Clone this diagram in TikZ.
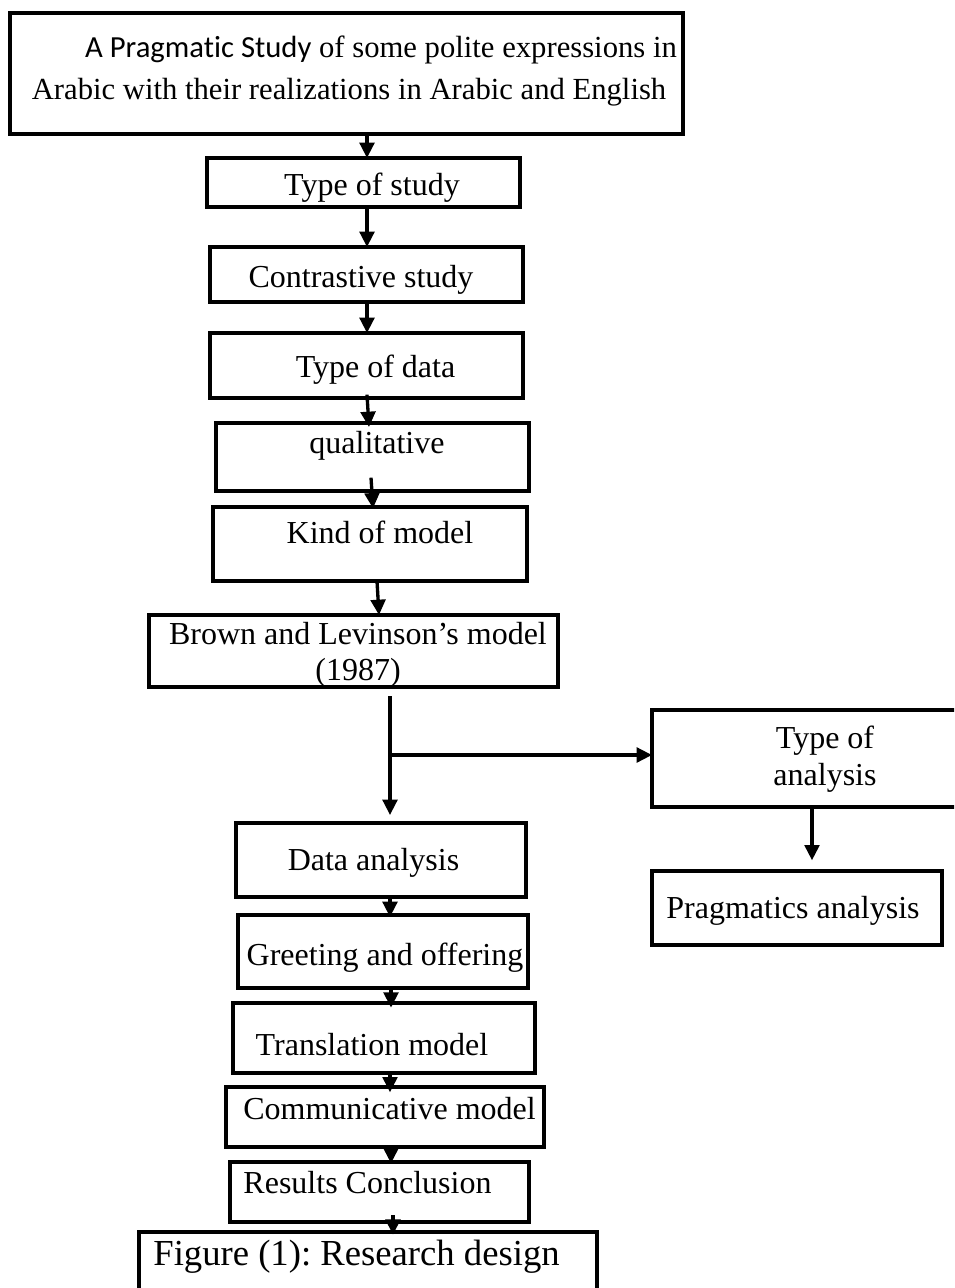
\documentclass[tikz,border=0pt]{standalone}
\usepackage{fontspec}
\setmainfont{Liberation Serif}
\newfontfamily\carlito[Ligatures=NoCommon]{Carlito}
\usetikzlibrary{arrows.meta}
\frenchspacing
\begin{document}
\begin{tikzpicture}[x=0.75pt,y=-0.75pt,
  bx/.style 2 args={draw, line width=2.8pt, minimum width=#1*0.75pt, minimum height=#2*0.75pt, inner sep=0pt, outer sep=0pt},
  txt/.style={inner sep=0pt, anchor=mid, yshift=-5.25pt, font=\fontsize{24pt}{27pt}\selectfont},
  arr/.style={line width=2.5pt, -{Triangle[width=11pt,length=11.5pt]}},
  ln/.style={line width=2.5pt}]
\useasboundingbox (0,0) rectangle (954,1288);
\clip (0,0) rectangle (954,1288);
\fill[white] (0,0) rectangle (954,1288);

% x guides
\coordinate (x367) at (367,0);
\coordinate (x369) at (369,0);
\coordinate (x371) at (371,0);
\coordinate (x373) at (373,0);
\coordinate (x377) at (377,0);
\coordinate (x379) at (379,0);
\coordinate (x390) at (390,0);
\coordinate (x391) at (391,0);
\coordinate (x393) at (393,0);
\coordinate (x812) at (812,0);

% boxes
\node[bx={673}{121}] (title) at (346.5,73.5) {};
\node[txt, font=\fontsize{23pt}{27pt}\selectfont] (t1a) at (381,47) {{\carlito A Pragmatic Study} of some polite expressions in};
\node[txt, font=\fontsize{23pt}{27pt}\selectfont] (t1b) at (349,89) {Arabic with their realizations in Arabic and English};

\node[bx={313}{49}] (tos) at (363.5,182.5) {};
\node[txt] (tost) at (372,185) {Type of study};

\node[bx={313}{55}] (cs) at (366.5,274.5) {};
\node[txt] (cst) at (361,277) {Contrastive study};

\node[bx={313}{65}] (tod) at (366.5,365.5) {};
\node[txt] (todt) at (375.5,367) {Type of data};

\node[bx={313}{68}] (qual) at (372.5,457) {};
\node[txt] (qualt) at (377,443) {qualitative};

\node[bx={314}{74}] (kom) at (370,544) {};
\node[txt] (komt) at (380,533) {Kind of model};

\node[bx={409}{72}] (bl) at (353.5,651) {};
\node[txt] (blt1) at (358,634) {Brown and Levinson’s model};
\node[txt] (blt2) at (358,670) {(1987)};

\node[bx={313}{97}] (toa) at (808.5,758.5) {};
\node[txt] (toat1) at (825,738) {Type of};
\node[txt] (toat2) at (825,775) {analysis};

\node[bx={290}{74}] (pa) at (797,908) {};
\node[txt] (pat) at (793,908) {Pragmatics analysis};

\node[bx={290}{74}] (da) at (381,860) {};
\node[txt] (dat) at (373.5,860) {Data analysis};

\node[bx={290}{73}] (go) at (383,951.5) {};
\node[txt] (got) at (385,955) {Greeting and offering};

\node[bx={302}{70}] (tm) at (384,1038) {};
\node[txt] (tmt) at (372,1045) {Translation model};

\node[bx={318}{60}] (cm) at (385,1117) {};
\node[txt] (cmt) at (389.5,1109) {Communicative model};

\node[bx={299}{60}] (rc) at (379.5,1192) {};
\node[txt] (rct) at (367.5,1183) {Results Conclusion};

\node[bx={458}{80}] (fig) at (368,1272) {};
\node[txt, font=\fontsize{27.5pt}{30pt}\selectfont] (figt) at (356.5,1255) {Figure (1): Research design};

% connectors
\draw[arr] (title.south -| x367) -- (tos.north -| x367);
\draw[arr] (tos.south -| x367) -- (cs.north -| x367);
\draw[arr] (cs.south -| x367) -- (tod.north -| x367);
\draw[arr] ([yshift=2.5pt]tod.south -| x367) -- ([yshift=-3pt]qual.north -| x369);
\draw[arr] ([yshift=10pt]qual.south -| x371) -- ([yshift=-1pt]kom.north -| x373);
\draw[arr] (kom.south -| x377) -- (bl.north -| x379);
\coordinate (br) at (390,755);
\draw[arr] ([yshift=-7pt]bl.south -| x390) -- ([yshift=6pt]da.north -| x390);
\draw[arr] (br) -- (toa.west |- br);
\draw[arr] (toa.south -| x812) -- ([yshift=8pt]pa.north -| x812);
\draw[arr] (da.south -| x390) -- ([yshift=-1.5pt]go.north -| x390);
\draw[arr] (go.south -| x391) -- ([yshift=-3.5pt]tm.north -| x391);
\draw[arr] (tm.south -| x390) -- ([yshift=-4pt]cm.north -| x390);
\draw[arr] ([yshift=1.5pt]cm.south -| x391) -- ([yshift=-1pt]rc.north -| x391);
\draw[arr] ([yshift=5pt]rc.south -| x393) -- ([yshift=-2pt]fig.north -| x393);
\end{tikzpicture}
\end{document}
